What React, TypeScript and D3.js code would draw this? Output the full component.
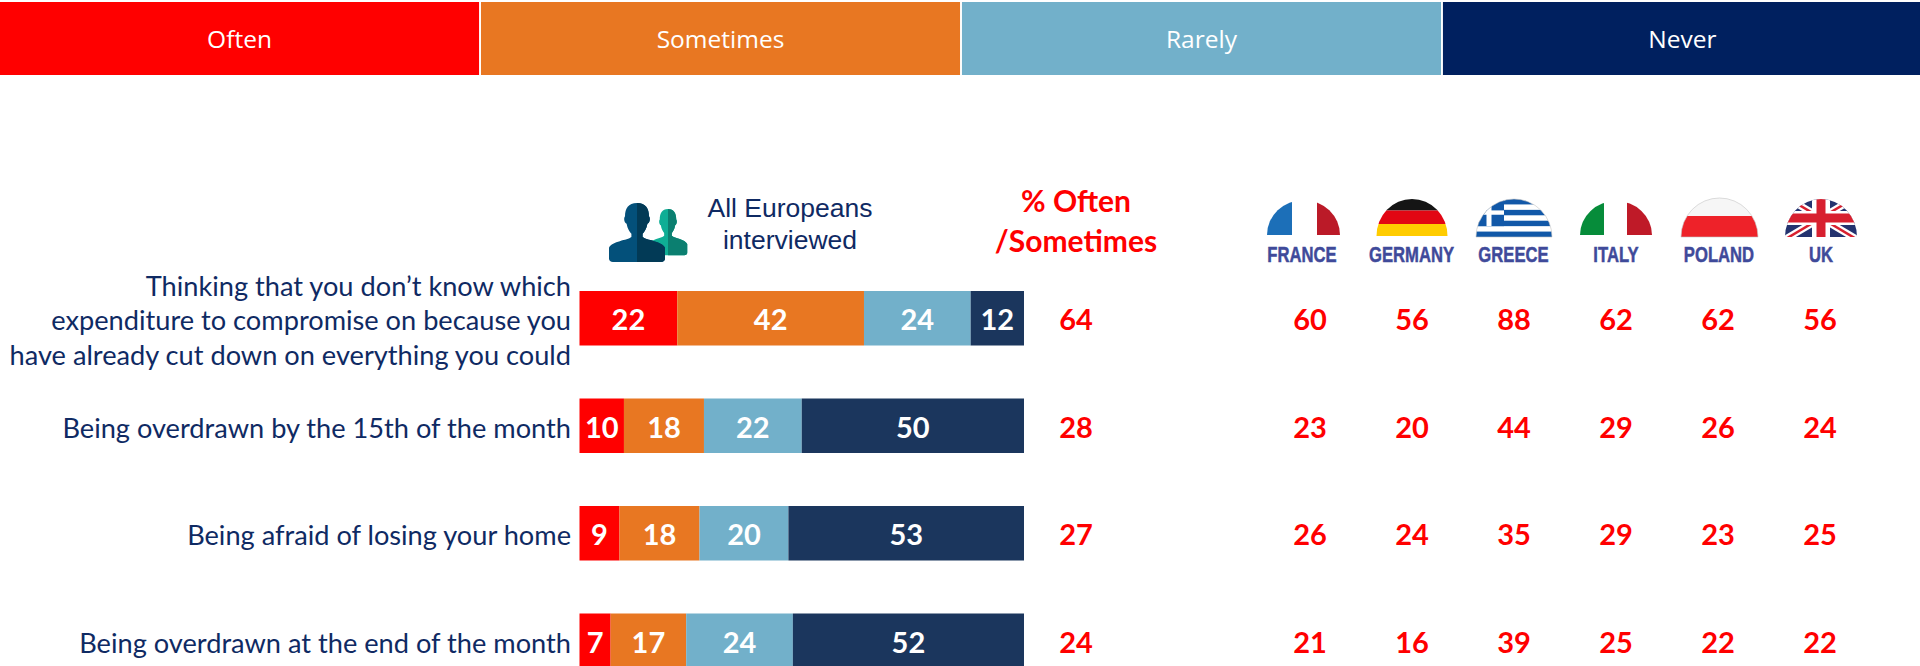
import React from "react";
import * as d3 from "d3";

const legendLabels = ["Often", "Sometimes", "Rarely", "Never"];
const categories = [
  ["Thinking that you don’t know which", "expenditure to compromise on because you", "have already cut down on everything you could"],
  ["Being overdrawn by the 15th of the month"],
  ["Being afraid of losing your home"],
  ["Being overdrawn at the end of the month"],
];
const often = [22, 10, 9, 7];
const sometimes = [42, 18, 18, 17];
const rarely = [24, 22, 20, 24];
const never = [12, 50, 53, 52];
const oftenSometimes = [64, 28, 27, 24];
const countries = ["FRANCE", "GERMANY", "GREECE", "ITALY", "POLAND", "UK"];
const france = [60, 23, 26, 21];
const germany = [56, 20, 24, 16];
const greece = [88, 44, 35, 39];
const italy = [62, 29, 29, 25];
const poland = [62, 26, 23, 22];
const uk = [56, 24, 25, 22];
const countryValues = [france, germany, greece, italy, poland, uk];
const colors = ["#ff0000", "#e87722", "#72b0ca", "#1b365d"];
const headerColors = ["#ff0000", "#e87722", "#72b0ca", "#00205f"];
const NAVY = "#0f2a63";
const FONT = "Lato, 'Open Sans', sans-serif";

const x = d3.scaleLinear().domain([0, 100]).range([579.5, 1024]);
const rowY = d3.scaleLinear().domain([0, 3]).range([318, 640.5]);
const headerX = d3.scaleBand<number>().domain([0, 1, 2, 3]).range([0, 1922]).paddingInner(0.004).paddingOuter(0);
const valueX = d3.scalePoint<string>().domain(countries).range([1310, 1820]);
const labelX: Record<string, number> = { FRANCE: 1302, GERMANY: 1411.5, GREECE: 1513.5, ITALY: 1616, POLAND: 1719, UK: 1821 };
const flagX: Record<string, number> = { FRANCE: 1303.5, GERMANY: 1412, GREECE: 1514, ITALY: 1616, POLAND: 1719.5, UK: 1821 };
const flagR: Record<string, number> = { FRANCE: 36.5, GERMANY: 35.5, GREECE: 38, ITALY: 36, POLAND: 38.5, UK: 36 };
const flagTop: Record<string, number> = { FRANCE: 200, GERMANY: 199, GREECE: 199, ITALY: 201, POLAND: 198, UK: 199 };
const flagBase: Record<string, number> = { FRANCE: 235, GERMANY: 236, GREECE: 237, ITALY: 235, POLAND: 237, UK: 237 };

const arc = (c: string) => {
  const R = flagR[c], b = flagBase[c], h = b - flagTop[c];
  return `M${-R} ${b} A${R} ${h} 0 0 1 ${R} ${b} Z`;
};

function FlagArt({ name }: { name: string }) {
  const R = flagR[name], l = -R - 1, w = 2 * R + 2, t = flagTop[name], h = flagBase[name] - t;
  const r = (a: number, b: number, c: number, d: number, fill: string, k?: any) => <rect key={k} x={a} y={b} width={c} height={d} fill={fill} />;
  if (name === "FRANCE") return <>{r(l, t, 26, h, "#1c6fb8")}{r(l + 51, t, 30, h, "#bb1a28")}</>;
  if (name === "ITALY") return <>{r(l, t, 25, h, "#068c3a")}{r(l + 48, t, 30, h, "#bf1a28")}</>;
  if (name === "GERMANY") return <>{r(l, t, w, 11.5, "#151515")}{r(l, t + 11.5, w, 13.5, "#e20613")}{r(l, t + 25, w, 12, "#ffcc00")}</>;
  if (name === "POLAND") return <>{r(l, t, w, 18, "#f6f6f6")}{r(l, t + 18, w, h - 18, "#ee2229")}</>;
  if (name === "GREECE") {
    const s = h / 7;
    return (
      <>
        {r(l, t, w, h, "#fff")}
        {[0, 2, 4, 6].map((i) => r(l, t + i * s, w, s, "#1158a8", i))}
        {r(l, t, 29, s * 5, "#1158a8")}
        {r(l, t + s * 2.1, 29, s * 0.8, "#fff")}
        {r(l + 11.5, t, 5, s * 5, "#fff")}
      </>
    );
  }
  return (
    <>
      {r(l, t, w, h, "#24336f")}
      <line x1={l} y1={t - 3} x2={l + w} y2={t + h + 3} stroke="#fff" strokeWidth={7} />
      <line x1={l} y1={t + h + 3} x2={l + w} y2={t - 3} stroke="#fff" strokeWidth={7} />
      <line x1={l} y1={t - 3} x2={l + w} y2={t + h + 3} stroke="#d8202f" strokeWidth={2.5} />
      <line x1={l} y1={t + h + 3} x2={l + w} y2={t - 3} stroke="#d8202f" strokeWidth={2.5} />
      {r(l, t + h / 2 - 7, w, 14, "#fff")}
      {r(-9, t, 18, h, "#fff")}
      {r(l, t + h / 2 - 4.5, w, 9, "#d8202f")}
      {r(-4.5, t, 9, h, "#d8202f")}
    </>
  );
}

function Person({ cx, top, sx, sy, left, right }: { cx: number; top: number; sx: number; sy: number; left: string; right: string }) {
  const shape = `M0 0 C-11 0 -15 7 -15 16 C-17 18 -16 24 -13 25 C-12 31 -9 35 -7 37 L-7 41 C-12 45 -31 46 -35 54 L-35 67 C-35 70 -33 71 -30 71 L30 71 C33 71 35 70 35 67 L35 54 C31 46 12 45 7 41 L7 37 C9 35 12 31 13 25 C16 24 17 18 15 16 C15 7 11 0 0 0 Z`;
  return (
    <g transform={`translate(${cx},${top}) scale(${sx},${sy})`}>
      <path d={shape} fill={left} />
      <path d={shape} fill={right} clipPath="url(#rightHalf)" />
    </g>
  );
}

export default function App() {
  const stacks = d3.stack<number>()
    .keys(["0", "1", "2", "3"])
    .value((i, k) => [often, sometimes, rarely, never][+k][i])(d3.range(often.length));

  return (
    <svg width={1920} height={666} style={{ position: "absolute", left: 0, top: 0, display: "block", background: "#fff" }} fontFamily={FONT}>
      <defs>
        <clipPath id="rightHalf"><rect x={0} y={-5} width={60} height={90} /></clipPath>
        {countries.map((c) => (
          <clipPath id={`flag-${c}`} key={c}><path d={arc(c)} /></clipPath>
        ))}
      </defs>

      {legendLabels.map((l, i) => (
        <g key={l}>
          <rect x={headerX(i)} y={2} width={headerX.bandwidth()} height={73} fill={headerColors[i]} />
          <text x={headerX(i)! + headerX.bandwidth() / 2} y={48} textAnchor="middle" fill="#fff" fontSize={24.5} fontFamily="'Open Sans', sans-serif" fontWeight={400}>{l}</text>
        </g>
      ))}

      <Person cx={668} top={209} sx={0.55} sy={0.65} left="#0fae95" right="#0b7f70" />
      <Person cx={637} top={203} sx={0.8} sy={0.83} left="#03507a" right="#023a56" />

      <g fontFamily="'Liberation Sans', Arial, sans-serif" fontSize={26.5} fill={NAVY} textAnchor="middle">
        <text x={790} y={217}>All Europeans</text>
        <text x={790} y={249}>interviewed</text>
      </g>
      <g fontWeight={700} fontSize={30} fill="#ff0000" textAnchor="middle">
        <text x={1076} y={212}>% Often</text>
        <text x={1076} y={252}>/Sometimes</text>
      </g>

      {countries.map((c) => (
        <g key={c}>
          <g transform={`translate(${flagX[c]},0)`}>
            <g clipPath={`url(#flag-${c})`}><FlagArt name={c} /></g>
            {(c === "POLAND" || c === "GREECE") && <path d={arc(c)} fill="none" stroke="#c4c4c4" strokeWidth={0.6} />}
          </g>
          <text transform={`translate(${labelX[c]},262) scale(0.74,1)`} textAnchor="middle" fontSize={22.5} fontWeight={700} fill="#3f4a9a" stroke="#3f4a9a" strokeWidth={0.5} fontFamily="'Liberation Sans', sans-serif">{c}</text>
        </g>
      ))}

      {categories.map((lines, row) => (
        <g key={row}>
          {lines.map((t, j) => (
            <text key={j} x={571} y={rowY(row) + (j - (lines.length - 1) / 2) * 34.5 + 12} textAnchor="end" fontSize={27.2} fill={NAVY}>{t}</text>
          ))}
          {stacks.map((s, k) => (
            <g key={k}>
              <rect x={x(s[row][0])} y={rowY(row) - 27} width={x(s[row][1]) - x(s[row][0])} height={54.5} fill={colors[k]} />
              <text x={(x(s[row][0]) + x(s[row][1])) / 2} y={rowY(row) + 12} textAnchor="middle" fontSize={29} fontWeight={700} fill="#fff">{s[row][1] - s[row][0]}</text>
            </g>
          ))}
          <text x={1076} y={rowY(row) + 12} textAnchor="middle" fontSize={29} fontWeight={700} fill="#ff0000">{oftenSometimes[row]}</text>
          {countries.map((c, ci) => (
            <text key={c} x={valueX(c)} y={rowY(row) + 12} textAnchor="middle" fontSize={29} fontWeight={700} fill="#ff0000">{countryValues[ci][row]}</text>
          ))}
        </g>
      ))}
    </svg>
  );
}
